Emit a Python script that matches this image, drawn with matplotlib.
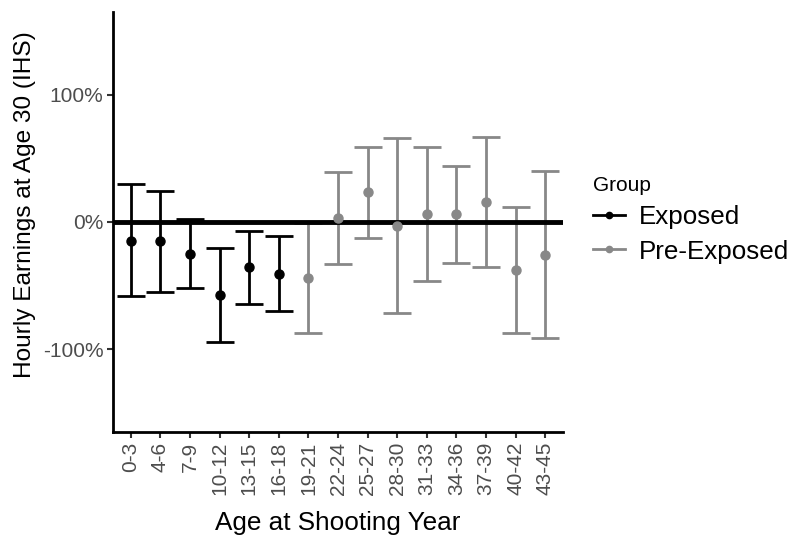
import numpy as np
import matplotlib.pyplot as plt

plt.rcParams['font.family'] = ['Liberation Sans', 'DejaVu Sans']

age_bins = ['0-3', '4-6', '7-9', '10-12', '13-15', '16-18', '19-21', '22-24',
            '25-27', '28-30', '31-33', '34-36', '37-39', '40-42', '43-45']
groups = ['Exposed'] * 6 + ['Pre-Exposed'] * 9

# point estimates and confidence bounds (percent)
estimate = [-15, -15.3, -25, -57.6, -35.7, -40.6, -43.7, 3.3,
            23.1, -3.3, 6.1, 5.9, 15.5, -37.8, -25.7]
upper = [29.4, 24.5, 2.2, -20.5, -6.9, -10.8, -1, 39,
         59, 65.7, 59, 43.8, 66.8, 11.9, 39.8]
lower = [-58.4, -55, -52, -94.3, -64.5, -70.2, -87.5, -32.8,
         -12.7, -71.2, -46.4, -32, -35.7, -87.5, -91.4]

colors = {'Exposed': '#000000', 'Pre-Exposed': '#888888'}

fig = plt.figure(figsize=(7.88, 5.36), dpi=100)
ax = fig.add_axes([0.1434, 0.194, 0.5711, 0.784])

x = np.arange(1, len(age_bins) + 1)
est = np.array(estimate)
up = np.array(upper)
lo = np.array(lower)
grp = np.array(groups)

for g in ['Exposed', 'Pre-Exposed']:
    m = grp == g
    ax.errorbar(x[m], est[m], yerr=[est[m] - lo[m], up[m] - est[m]],
                fmt='none', ecolor=colors[g], elinewidth=2.0,
                capsize=10, capthick=2.0, zorder=2)
    ax.plot(x[m], est[m], 'o', color=colors[g], markersize=6.5, zorder=4)
    ax.plot([], [], '-o', color=colors[g], lw=2, markersize=4.5, label=g)

ax.axhline(0, color='black', lw=3.5, zorder=3)

ax.set_xlim(0.4, 15.6)
ax.set_ylim(-165, 165)
ax.set_xticks(x)
ax.set_xticklabels(age_bins, rotation=90, color='#4d4d4d', fontsize=15)
ax.set_yticks([-100, 0, 100])
ax.set_yticklabels(['-100%', '0%', '100%'], color='#4d4d4d', fontsize=15)
ax.tick_params(axis='both', length=4, width=1.5, color='#333333', pad=3)

for s in ['top', 'right']:
    ax.spines[s].set_visible(False)
for s in ['left', 'bottom']:
    ax.spines[s].set_linewidth(2)

ax.set_xlabel('Age at Shooting Year', fontsize=18.8, labelpad=11.5)
ax.set_ylabel('Hourly Earnings at Age 30 (IHS)', fontsize=17.6)
ax.yaxis.set_label_coords(-0.171, 0.54)

leg = ax.legend(title='Group', loc='upper left', bbox_to_anchor=(0.753, 0.672),
                bbox_transform=fig.transFigure, borderpad=0, borderaxespad=0,
                frameon=False, fontsize=18.7, title_fontsize=15,
                handlelength=1.2, handletextpad=0.55, labelspacing=0.4)
leg._legend_box.align = 'left'

fig.savefig('out.png', dpi=100)
